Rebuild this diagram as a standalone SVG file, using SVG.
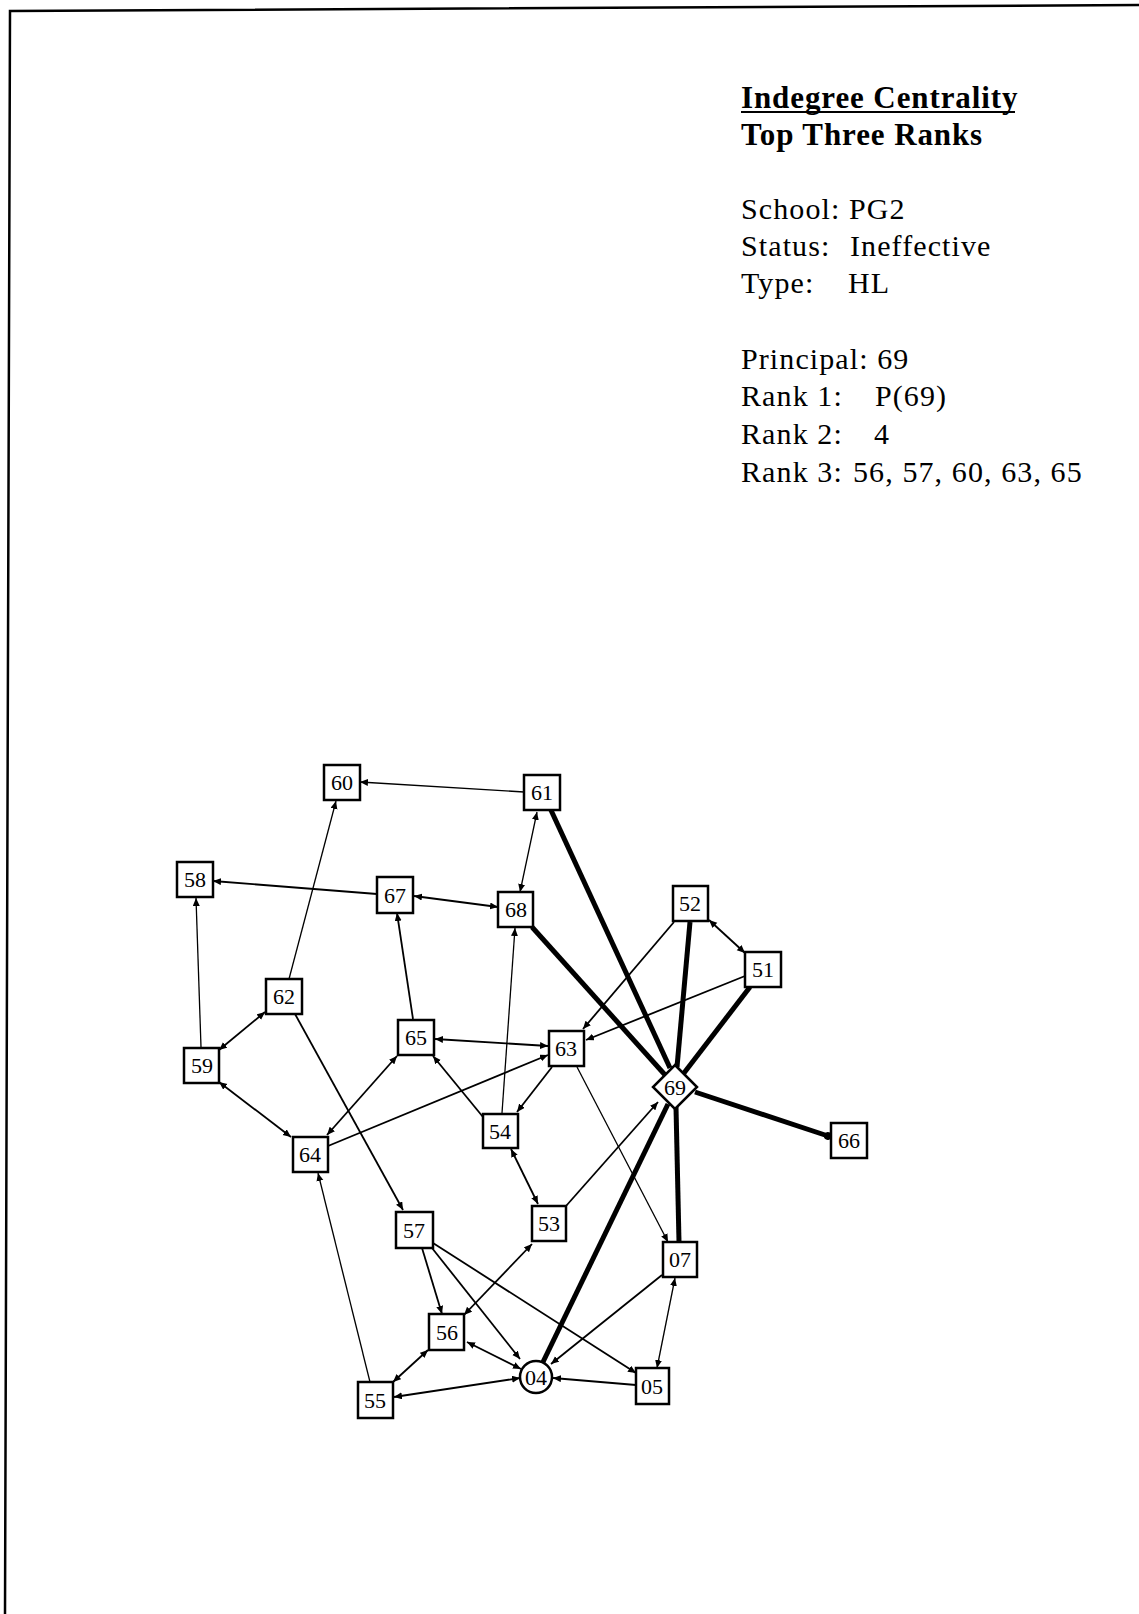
<svg xmlns="http://www.w3.org/2000/svg" width="1139" height="1614" viewBox="0 0 1139 1614">
<style>
.frame{fill:none;stroke:#000;stroke-width:2.5}
.t{font-family:"Liberation Serif","Times New Roman",serif;font-size:30px;fill:#000;letter-spacing:1.1px}
.tb{font-family:"Liberation Serif","Times New Roman",serif;font-size:31px;font-weight:bold;fill:#000;letter-spacing:0.9px}
.box{fill:#fff;stroke:#000;stroke-width:2.5}
.lbl{font-family:"Liberation Serif","Times New Roman",serif;font-size:22px;fill:#000;text-anchor:middle}
.e{fill:none;stroke:#000;stroke-width:1.8}
.e1{fill:none;stroke:#000;stroke-width:1.3}
.k{fill:none;stroke:#000;stroke-width:5}
.a{marker-end:url(#ah)}
.b{marker-end:url(#ah);marker-start:url(#ah)}
</style>
<defs>
<marker id="ah" markerUnits="userSpaceOnUse" markerWidth="10" markerHeight="8" refX="8" refY="3.5" orient="auto-start-reverse">
<path d="M0,0 L8,3.5 L0,7 z" fill="#000"/>
</marker>
<marker id="dot" markerUnits="userSpaceOnUse" markerWidth="10" markerHeight="10" refX="5" refY="5" orient="auto">
<circle cx="5" cy="5" r="4" fill="#000"/>
</marker>
</defs>
<rect width="1139" height="1614" fill="#fff"/>
<polyline class="frame" points="1139,5 10,11 5,1614"/>

<g id="legend">
<text class="tb" x="741" y="108">Indegree Centrality</text>
<line x1="741" y1="112" x2="1015" y2="112" stroke="#000" stroke-width="2"/>
<text class="tb" x="741" y="145">Top Three Ranks</text>
<text class="t" x="741" y="219">School:<tspan x="849">PG2</tspan></text>
<text class="t" x="741" y="256">Status:<tspan x="850">Ineffective</tspan></text>
<text class="t" x="741" y="293">Type:<tspan x="848">HL</tspan></text>
<text class="t" x="741" y="369">Principal: 69</text>
<text class="t" x="741" y="406">Rank 1:<tspan x="875">P(69)</tspan></text>
<text class="t" x="741" y="444">Rank 2:<tspan x="874">4</tspan></text>
<text class="t" x="741" y="482">Rank 3:<tspan x="853">56, 57, 60, 63, 65</tspan></text>
</g>

<g id="connectors">
<line class="e1 a" x1="524" y1="792" x2="360" y2="782"/>
<line class="e1 b" x1="537" y1="812" x2="520" y2="892"/>
<line class="e a" x1="377" y1="894" x2="213" y2="881"/>
<line class="e b" x1="498" y1="907" x2="414" y2="896"/>
<line class="e1 a" x1="289" y1="979" x2="336" y2="801"/>
<line class="e1 a" x1="201" y1="1047" x2="196" y2="898"/>
<line class="e b" x1="219" y1="1050" x2="265" y2="1012"/>
<line class="e a" x1="413" y1="1019" x2="397" y2="913"/>
<line class="e1 a" x1="502" y1="1113" x2="515" y2="928"/>
<line class="e b" x1="548" y1="1046" x2="435" y2="1039"/>
<line class="e b" x1="219" y1="1082" x2="291" y2="1137"/>
<line class="e a" x1="295" y1="1014" x2="403" y2="1210"/>
<line class="e b" x1="397" y1="1056" x2="327" y2="1135"/>
<line class="e a" x1="328" y1="1146" x2="548" y2="1055"/>
<line class="e a" x1="483" y1="1117" x2="433" y2="1056"/>
<line class="e a" x1="552" y1="1067" x2="517" y2="1112"/>
<line class="e b" x1="511" y1="1149" x2="538" y2="1204"/>
<line class="e1 a" x1="577" y1="1067" x2="668" y2="1242"/>
<line class="e a" x1="566" y1="1206" x2="658" y2="1102"/>
<line class="e a" x1="674" y1="922" x2="583" y2="1029"/>
<line class="e a" x1="745" y1="976" x2="586" y2="1040"/>
<line class="e b" x1="709" y1="920" x2="745" y2="953"/>
<line class="e a" x1="422" y1="1248" x2="442" y2="1314"/>
<line class="e a" x1="432" y1="1248" x2="520" y2="1359"/>
<line class="e a" x1="433" y1="1243" x2="636" y2="1373"/>
<line class="e b" x1="532" y1="1244" x2="464" y2="1315"/>
<line class="e b" x1="467" y1="1342" x2="521" y2="1369"/>
<line class="e b" x1="393" y1="1382" x2="428" y2="1350"/>
<line class="e1 a" x1="370" y1="1382" x2="318" y2="1173"/>
<line class="e b" x1="394" y1="1397" x2="520" y2="1378"/>
<line class="e a" x1="636" y1="1385" x2="553" y2="1378"/>
<line class="e a" x1="662" y1="1275" x2="551" y2="1364"/>
<line class="e1 b" x1="675" y1="1278" x2="657" y2="1368"/>
<line class="k" x1="550" y1="808" x2="670" y2="1068"/>
<line class="k" x1="532" y1="927" x2="666" y2="1076"/>
<line class="k" x1="690" y1="922" x2="677" y2="1067"/>
<line class="k" x1="750" y1="987" x2="684" y2="1073"/>
<line class="k" x1="668" y1="1104" x2="543" y2="1362"/>
<line class="k" x1="676" y1="1107" x2="679" y2="1242"/>
<line class="k" x1="695" y1="1092" x2="828" y2="1136" marker-end="url(#dot)"/>
</g>

<g id="n60"><rect class="box" x="324" y="765" width="36" height="35"/><text class="lbl" x="342" y="790">60</text></g>
<g id="n61"><rect class="box" x="524" y="775" width="36" height="35"/><text class="lbl" x="542" y="800">61</text></g>
<g id="n58"><rect class="box" x="177" y="862" width="36" height="35"/><text class="lbl" x="195" y="887">58</text></g>
<g id="n67"><rect class="box" x="377" y="877" width="36" height="36"/><text class="lbl" x="395" y="903">67</text></g>
<g id="n68"><rect class="box" x="498" y="892" width="35" height="35"/><text class="lbl" x="516" y="917">68</text></g>
<g id="n52"><rect class="box" x="673" y="886" width="35" height="35"/><text class="lbl" x="690" y="911">52</text></g>
<g id="n51"><rect class="box" x="745" y="952" width="36" height="35"/><text class="lbl" x="763" y="977">51</text></g>
<g id="n62"><rect class="box" x="266" y="979" width="36" height="35"/><text class="lbl" x="284" y="1004">62</text></g>
<g id="n65"><rect class="box" x="398" y="1020" width="36" height="35"/><text class="lbl" x="416" y="1045">65</text></g>
<g id="n63"><rect class="box" x="549" y="1031" width="35" height="35"/><text class="lbl" x="566" y="1056">63</text></g>
<g id="n59"><rect class="box" x="184" y="1048" width="35" height="35"/><text class="lbl" x="202" y="1073">59</text></g>
<g id="n69"><polygon class="box" points="675,1065 697,1087 675,1109 653,1087"/><text class="lbl" x="675" y="1095">69</text></g>
<g id="n54"><rect class="box" x="483" y="1114" width="35" height="34"/><text class="lbl" x="500" y="1139">54</text></g>
<g id="n64"><rect class="box" x="293" y="1137" width="35" height="35"/><text class="lbl" x="310" y="1162">64</text></g>
<g id="n66"><rect class="box" x="831" y="1123" width="36" height="35"/><text class="lbl" x="849" y="1148">66</text></g>
<g id="n53"><rect class="box" x="532" y="1206" width="34" height="35"/><text class="lbl" x="549" y="1231">53</text></g>
<g id="n57"><rect class="box" x="396" y="1212" width="37" height="36"/><text class="lbl" x="414" y="1238">57</text></g>
<g id="n07"><rect class="box" x="663" y="1242" width="34" height="35"/><text class="lbl" x="680" y="1267">07</text></g>
<g id="n56"><rect class="box" x="429" y="1314" width="35" height="36"/><text class="lbl" x="447" y="1340">56</text></g>
<g id="n04"><circle class="box" cx="536" cy="1377" r="16"/><text class="lbl" x="536" y="1385">04</text></g>
<g id="n05"><rect class="box" x="636" y="1368" width="33" height="36"/><text class="lbl" x="652" y="1394">05</text></g>
<g id="n55"><rect class="box" x="358" y="1382" width="35" height="36"/><text class="lbl" x="375" y="1408">55</text></g>
</svg>
